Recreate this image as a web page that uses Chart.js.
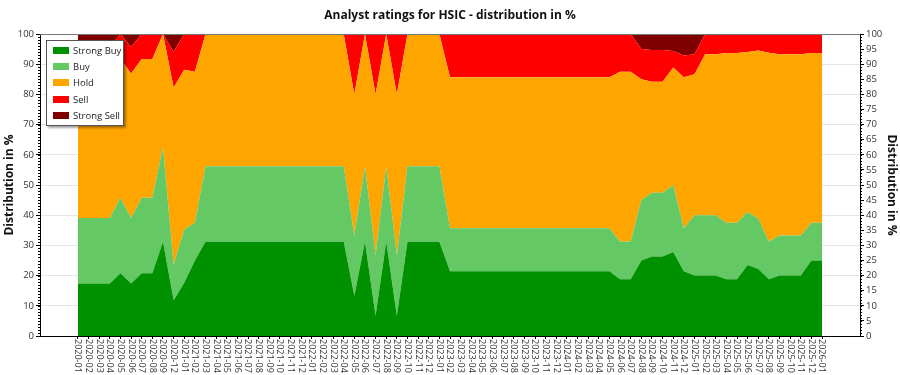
<!DOCTYPE html>
<html>
<head>
<meta charset="utf-8">
<title>Analyst ratings for HSIC</title>
<script src="https://cdn.jsdelivr.net/npm/chart.js@4.4.1/dist/chart.umd.min.js"></script>
<style>
    html, body { margin: 0; padding: 0; background: #fff; }
    #wrap { position: relative; width: 900px; height: 375px; }
    #legend {
        position: absolute; left: 46px; top: 40px; width: 76px; height: 83px;
        border: 1px solid #555; background: #fff; padding: 1px 0 0 0;
        box-shadow: 2px 2px 2px rgba(0, 0, 0, 0.35);
        font-family: "Open Sans", sans-serif; font-size: 9.5px; color: #222;
        white-space: nowrap;
    }
    #legend .row { height: 16.4px; display: flex; align-items: center; }
    #legend .sw { width: 16px; height: 7px; margin: 0 4px 0 6px; flex: none; }
</style>
</head>
<body>
<div id="wrap">
    <canvas id="myChart" width="900" height="375"></canvas>
    <div id="legend"></div>
</div>
<script>
// months shown on the x axis (2020-10 and 2020-11 are missing in the source)
const months = [
    '2020-01', '2020-02', '2020-03', '2020-04', '2020-05', '2020-06', '2020-07', '2020-08', '2020-09', '2020-12',
    '2021-01', '2021-02', '2021-03', '2021-04', '2021-05', '2021-06', '2021-07', '2021-08', '2021-09', '2021-10', '2021-11', '2021-12',
    '2022-01', '2022-02', '2022-03', '2022-04', '2022-05', '2022-06', '2022-07', '2022-08', '2022-09', '2022-10', '2022-11', '2022-12',
    '2023-01', '2023-02', '2023-03', '2023-04', '2023-05', '2023-06', '2023-07', '2023-08', '2023-09', '2023-10', '2023-11', '2023-12',
    '2024-01', '2024-02', '2024-03', '2024-04', '2024-05', '2024-06', '2024-07', '2024-08', '2024-09', '2024-10', '2024-11', '2024-12',
    '2025-01', '2025-02', '2025-03', '2025-04', '2025-05', '2025-06', '2025-07', '2025-08', '2025-09', '2025-10', '2025-11', '2025-12',
    '2026-01'
];

// distribution in %
const strongBuy = [
    17.4, 17.4, 17.4, 17.4, 20.8, 17.4, 20.8, 20.8, 31.2, 11.8,
    17.6, 25.0, 31.2, 31.2, 31.2, 31.2, 31.2, 31.2, 31.2, 31.2, 31.2, 31.2,
    31.2, 31.2, 31.2, 31.2, 13.3, 31.2, 6.7, 31.2, 6.7, 31.2, 31.2, 31.2,
    31.2, 21.4, 21.4, 21.4, 21.4, 21.4, 21.4, 21.4, 21.4, 21.4, 21.4, 21.4,
    21.4, 21.4, 21.4, 21.4, 21.4, 18.8, 18.8, 25.0, 26.3, 26.3, 27.8, 21.4,
    20.0, 20.0, 20.0, 18.8, 18.8, 23.5, 22.2, 18.8, 20.0, 20.0, 20.0, 25.0,
    25.0
];
const buy = [
    21.7, 21.7, 21.7, 21.7, 25.0, 21.7, 25.0, 25.0, 31.3, 11.7,
    17.7, 12.5, 25.0, 25.0, 25.0, 25.0, 25.0, 25.0, 25.0, 25.0, 25.0, 25.0,
    25.0, 25.0, 25.0, 25.0, 20.0, 25.0, 20.0, 25.0, 20.0, 25.0, 25.0, 25.0,
    25.0, 14.3, 14.3, 14.3, 14.3, 14.3, 14.3, 14.3, 14.3, 14.3, 14.3, 14.3,
    14.3, 14.3, 14.3, 14.3, 14.3, 12.5, 12.5, 20.0, 21.1, 21.1, 22.2, 14.3,
    20.0, 20.0, 20.0, 18.7, 18.7, 17.6, 16.7, 12.5, 13.3, 13.3, 13.3, 12.5,
    12.5
];
const hold = [
    52.2, 52.2, 52.2, 52.2, 45.9, 47.8, 45.9, 45.9, 37.5, 58.8,
    52.9, 50.0, 43.8, 43.8, 43.8, 43.8, 43.8, 43.8, 43.8, 43.8, 43.8, 43.8,
    43.8, 43.8, 43.8, 43.8, 46.7, 43.8, 53.3, 43.8, 53.3, 43.8, 43.8, 43.8,
    43.8, 50.0, 50.0, 50.0, 50.0, 50.0, 50.0, 50.0, 50.0, 50.0, 50.0, 50.0,
    50.0, 50.0, 50.0, 50.0, 50.0, 56.2, 56.2, 40.0, 36.8, 36.8, 38.9, 50.0,
    46.7, 53.3, 53.3, 56.2, 56.2, 52.9, 55.6, 62.5, 60.0, 60.0, 60.0, 56.2,
    56.2
];
const sell = [
    4.4, 4.4, 4.4, 4.4, 8.3, 8.8, 8.3, 8.3, 0, 11.8,
    11.8, 12.5, 0, 0, 0, 0, 0, 0, 0, 0, 0, 0,
    0, 0, 0, 0, 20.0, 0, 20.0, 0, 20.0, 0, 0, 0,
    0, 14.3, 14.3, 14.3, 14.3, 14.3, 14.3, 14.3, 14.3, 14.3, 14.3, 14.3,
    14.3, 14.3, 14.3, 14.3, 14.3, 12.5, 12.5, 10.0, 10.5, 10.5, 5.5, 7.2,
    6.6, 6.7, 6.7, 6.3, 6.3, 6.0, 5.5, 6.2, 6.7, 6.7, 6.7, 6.3,
    6.3
];
const strongSell = [
    4.3, 4.3, 4.3, 4.3, 0, 4.3, 0, 0, 0, 5.9,
    0, 0, 0, 0, 0, 0, 0, 0, 0, 0, 0, 0,
    0, 0, 0, 0, 0, 0, 0, 0, 0, 0, 0, 0,
    0, 0, 0, 0, 0, 0, 0, 0, 0, 0, 0, 0,
    0, 0, 0, 0, 0, 0, 0, 5.0, 5.3, 5.3, 5.6, 7.1,
    6.7, 0, 0, 0, 0, 0, 0, 0, 0, 0, 0, 0,
    0
];

const leftTicks = [0, 10, 20, 30, 40, 50, 60, 70, 80, 90, 100];

const FONT = '"Open Sans", sans-serif';

function area(label, values, color, fill) {
    return {
        label: label,
        data: values.map((v, i) => ({ x: i, y: v })),
        backgroundColor: color,
        borderColor: color,
        borderWidth: 0,
        pointRadius: 0,
        pointHoverRadius: 0,
        tension: 0,
        fill: fill
    };
}

const data = {
    datasets: [
        area('Strong Buy', strongBuy, '#009100', 'origin'),
        area('Buy', buy, '#64c864', '-1'),
        area('Hold', hold, '#ffa500', '-1'),
        area('Sell', sell, '#ff0000', '-1'),
        area('Strong Sell', strongSell, '#800000', '-1')
    ]
};

// x labels read top to bottom, minor ticks on both y axes, frame line on top
const extras = {
    id: 'extras',
    afterDraw(chart) {
        const ctx = chart.ctx;
        const area = chart.chartArea;
        const xs = chart.scales.x;
        ctx.save();
        ctx.strokeStyle = '#777';
        ctx.lineWidth = 1;
        ctx.beginPath();
        ctx.moveTo(area.left, area.top + 0.5);
        ctx.lineTo(area.right, area.top + 0.5);
        ctx.stroke();

        ctx.fillStyle = '#333';
        ctx.font = '9px ' + FONT;
        ctx.textAlign = 'left';
        ctx.textBaseline = 'middle';
        months.forEach((m, i) => {
            const x = xs.getPixelForValue(i);
            ctx.save();
            ctx.translate(x, area.bottom + 3);
            ctx.rotate(Math.PI / 2);
            ctx.fillText(m, 0, 0);
            ctx.restore();
        });

        ctx.strokeStyle = '#000';
        ctx.beginPath();
        ['y', 'y2'].forEach(id => {
            const s = chart.scales[id];
            for (let v = 0; v <= 100; v++) {
                const y = Math.round(s.getPixelForValue(v)) + 0.5;
                if (id === 'y') {
                    ctx.moveTo(area.left, y);
                    ctx.lineTo(area.left - 2, y);
                } else {
                    ctx.moveTo(area.right, y);
                    ctx.lineTo(area.right + 2, y);
                }
            }
        });
        ctx.stroke();
        ctx.restore();
    }
};

const config = {
    type: 'line',
    data,
    options: {
        responsive: false,
        animation: false,
        devicePixelRatio: 1,
        layout: { padding: 0 },
        interaction: { mode: 'index', intersect: false },
        plugins: {
            legend: { display: false },
            tooltip: { enabled: false },
            title: {
                display: true,
                text: 'Analyst ratings for HSIC - distribution in %',
                color: '#111',
                font: { family: FONT, size: 12, weight: 'bold' },
                padding: { top: 8, bottom: 11.6 }
            }
        },
        scales: {
            x: {
                type: 'linear',
                min: -3.57,
                max: 73.57,
                afterBuildTicks: s => { s.ticks = months.map((m, i) => ({ value: i })); },
                ticks: { display: false },
                grid: { drawOnChartArea: false, tickLength: 3, color: '#000' },
                border: { color: '#000' },
                afterFit: s => { s.height = 39; }
            },
            y: {
                position: 'left',
                stacked: true,
                min: 0,
                max: 100,
                afterBuildTicks: s => { s.ticks = leftTicks.map(v => ({ value: v })); },
                ticks: { color: '#333', font: { family: FONT, size: 9.5 }, padding: 2 },
                grid: { color: '#e6e6e6', tickLength: 4, tickColor: '#000' },
                border: { color: '#000' },
                title: {
                    display: true,
                    text: 'Distribution in %',
                    color: '#111',
                    font: { family: FONT, size: 12, weight: 'bold' },
                    padding: { top: 2, bottom: 0 }
                },
                afterFit: s => { s.width = 40; }
            },
            y2: {
                position: 'right',
                min: 0,
                max: 100,
                ticks: { stepSize: 5, color: '#333', font: { family: FONT, size: 9.5 }, padding: 2 },
                grid: { drawOnChartArea: false, tickLength: 4, color: '#000' },
                border: { color: '#000' },
                title: {
                    display: true,
                    text: 'Distribution in %',
                    color: '#111',
                    font: { family: FONT, size: 12, weight: 'bold' },
                    padding: { top: 1, bottom: 0 }
                },
                afterFit: s => { s.width = 40; }
            }
        }
    },
    plugins: [extras]
};

const myChart = new Chart(document.getElementById('myChart'), config);

// legend box drawn over the plot, built from the datasets
const legend = document.getElementById('legend');
data.datasets.forEach(ds => {
    const row = document.createElement('div');
    row.className = 'row';
    const sw = document.createElement('span');
    sw.className = 'sw';
    sw.style.background = ds.backgroundColor;
    const txt = document.createElement('span');
    txt.textContent = ds.label;
    row.appendChild(sw);
    row.appendChild(txt);
    legend.appendChild(row);
});
</script>
</body>
</html>
